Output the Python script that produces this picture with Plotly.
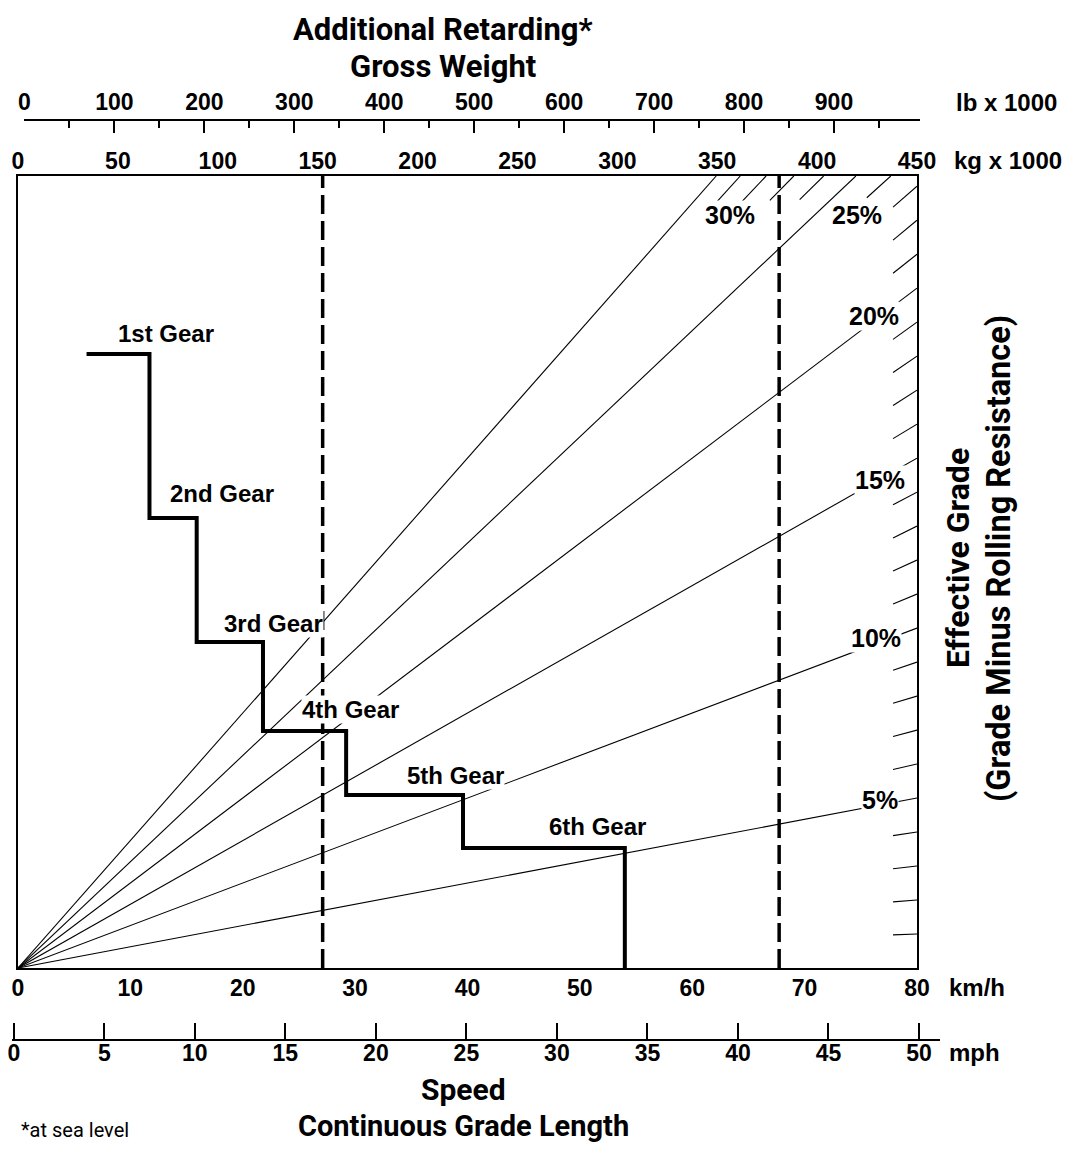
import plotly.graph_objects as go

# ---------------- data ----------------
speed_kmh_ticks = [0, 10, 20, 30, 40, 50, 60, 70, 80]
speed_mph_ticks = [0, 5, 10, 15, 20, 25, 30, 35, 40, 45, 50]
weight_kg_ticks = [0, 50, 100, 150, 200, 250, 300, 350, 400, 450]
weight_lb_ticks = [0, 100, 200, 300, 400, 500, 600, 700, 800, 900]

grades_labeled = [5, 10, 15, 20, 25, 30]
grades_minor = [1, 2, 3, 4, 6, 7, 8, 9, 11, 12, 13, 14, 16, 17, 18, 19,
                21, 22, 23, 24, 26, 27, 28, 29]

# gear step curve: shift speeds (km/h) and retarding level per gear
shift_speeds = [6.1, 11.7, 15.9, 21.8, 29.2, 39.6, 54.0]
gear_levels = [18.06, 13.24, 9.59, 6.97, 5.09, 3.53, 0.0]
gear_names = ["1st Gear", "2nd Gear", "3rd Gear", "4th Gear", "5th Gear", "6th Gear"]

marker_weights_kg = [152.5, 381.0]

W_MAX = 450.0     # kg x 1000 at right edge
Y_TOP = 23.3      # effective grade reached at top-right corner

# ---------------- layout helpers ----------------
OFF = 8                      # page body margin
W, H = 1070 - 2 * OFF, 1151 - 2 * OFF
def px(x):
    return (x - OFF) / W
def py(y):
    return 1 - (y - OFF) / H

L, R, T, B = 18, 917, 176, 968

BOLD = "Liberation Sans, Arial, Helvetica, sans-serif"
COND = "Roboto, Liberation Sans, Arial, sans-serif"

fig = go.Figure()

# grade lines from origin
for g in grades_labeled:
    w_end = min(W_MAX, Y_TOP * W_MAX / g)
    fig.add_trace(go.Scatter(x=[0, w_end], y=[0, g * w_end / W_MAX], mode="lines",
                             line=dict(color="black", width=1.1),
                             xaxis="x2", yaxis="y", hoverinfo="skip", showlegend=False))

# short grade ticks along top / right edges
TICK_KG = 12
for g in grades_minor:
    w_end = min(W_MAX, Y_TOP * W_MAX / g)
    w0 = w_end - TICK_KG
    fig.add_trace(go.Scatter(x=[w0, w_end], y=[g * w0 / W_MAX, g * w_end / W_MAX], mode="lines",
                             line=dict(color="black", width=1.1),
                             xaxis="x2", yaxis="y", hoverinfo="skip", showlegend=False))

# dashed weight markers
for wk in marker_weights_kg:
    fig.add_trace(go.Scatter(x=[wk, wk], y=[0, Y_TOP], mode="lines",
                             line=dict(color="black", width=3.5, dash="19px,7px"),
                             xaxis="x2", yaxis="y", hoverinfo="skip", showlegend=False))

# gear step curve
fig.add_trace(go.Scatter(x=shift_speeds, y=gear_levels, mode="lines", line_shape="hv",
                         line=dict(color="black", width=4),
                         xaxis="x", yaxis="y", hoverinfo="skip", showlegend=False))

# dummy traces so the extra scale axes render
fig.add_trace(go.Scatter(x=[0], y=[-5], mode="markers", marker=dict(opacity=0),
                         xaxis="x3", yaxis="y2", hoverinfo="skip", showlegend=False))
fig.add_trace(go.Scatter(x=[0], y=[-5], mode="markers", marker=dict(opacity=0),
                         xaxis="x4", yaxis="y3", hoverinfo="skip", showlegend=False))

tickfont = dict(family=BOLD, size=23, color="black", weight="bold")
hidden_y = dict(range=[0, 1], showline=False, showgrid=False, zeroline=False,
                showticklabels=False, ticks="", automargin=False)

fig.update_layout(
    template="none",
    width=W, height=H,
    margin=dict(l=0, r=0, t=0, b=0, autoexpand=False),
    paper_bgcolor="white", plot_bgcolor="rgba(0,0,0,0)",
    showlegend=False,
    xaxis=dict(domain=[px(L), px(R)], range=[0, 80], anchor="y", side="bottom",
               showline=True, linecolor="black", linewidth=2, mirror=True,
               showgrid=False, zeroline=False, ticks="", automargin=False,
               tickvals=speed_kmh_ticks, ticktext=[str(v) for v in speed_kmh_ticks],
               tickfont=tickfont, ticklabelstandoff=-2, ticklabeloverflow="allow"),
    xaxis2=dict(overlaying="x", range=[0, W_MAX], side="top", anchor="y",
                showline=False, showgrid=False, zeroline=False, ticks="", automargin=False,
                tickvals=weight_kg_ticks, ticktext=[str(v) for v in weight_kg_ticks],
                tickfont=tickfont, ticklabelstandoff=1, ticklabeloverflow="allow"),
    xaxis3=dict(domain=[px(24), px(920)], range=[-0.5, 995.6], anchor="y2",
                side="top", showline=True, linecolor="black", linewidth=2,
                showgrid=False, zeroline=False, automargin=False,
                ticks="inside", ticklen=12, tickwidth=2, tickcolor="black",
                tickvals=weight_lb_ticks, ticktext=[str(v) for v in weight_lb_ticks],
                minor=dict(ticks="inside", ticklen=7, tickwidth=2, tickcolor="black",
                           dtick=50, tick0=0, showgrid=False),
                tickfont=tickfont, ticklabelstandoff=0, ticklabeloverflow="allow"),
    xaxis4=dict(domain=[px(12), px(940)], range=[-0.1, 51.16], anchor="y3",
                side="bottom", showline=True, linecolor="black", linewidth=2,
                showgrid=False, zeroline=False, automargin=False,
                ticks="inside", ticklen=16, tickwidth=2, tickcolor="black",
                tickvals=speed_mph_ticks, ticktext=[str(v) for v in speed_mph_ticks],
                tickfont=tickfont, ticklabelstandoff=-8, ticklabeloverflow="allow"),
    yaxis=dict(domain=[py(B), py(T)], range=[0, Y_TOP], anchor="x", showline=True,
               linecolor="black", linewidth=2, mirror=True, showgrid=False, zeroline=False,
               showticklabels=False, ticks="", automargin=False),
    yaxis2=dict(domain=[py(122), py(121)], anchor="x3", **hidden_y),
    yaxis3=dict(domain=[py(1039), py(1038)], anchor="x4", **hidden_y),
)

ann = []
def text(x, y, s, size=24, family=BOLD, bold=True, bg=None, angle=0, xanchor="center"):
    ann.append(dict(x=px(x), y=py(y), xref="paper", yref="paper", text=s, showarrow=False,
                    xanchor=xanchor, yanchor="middle", textangle=angle,
                    font=dict(family=family, size=size, color="black",
                              weight="bold" if bold else "normal"),
                    bgcolor=bg, borderpad=0))

# titles
text(443, 30, "Additional Retarding*", size=31, family=COND)
text(443, 66, "Gross Weight", size=31, family=COND)
text(463, 1089, "Speed", size=30, family=COND)
text(463, 1126, "Continuous Grade Length", size=29, family=COND)
text(20, 1130, "*at sea level", size=20, family=COND, bold=False, xanchor="left")
text(958, 558, "Effective Grade", size=32, family=COND, angle=-90)
text(999, 559, "(Grade Minus Rolling Resistance)", size=32.5, family=COND, angle=-90)

# unit labels
text(955, 103, "lb x 1000", xanchor="left")
text(953, 160, "kg x 1000", xanchor="left")
text(948, 987, "km/h", xanchor="left")
text(948, 1052, "mph", xanchor="left")

# gear labels
gear_label_pos = [(166, 333), (222, 493), (273, 623), (350, 709), (455, 775), (597, 826)]
for name, (gx, gy) in zip(gear_names, gear_label_pos):
    text(gx, gy, name, bg="white")

# grade labels
grade_label_pos = [(880, 800), (876, 638), (880, 480), (874, 316), (857, 215), (730, 215)]
for g, (lx, ly) in zip(grades_labeled, grade_label_pos):
    text(lx, ly, f"{g}%", size=25, bg="white")

fig.update_layout(annotations=ann)

fig.write_html("out.html")
